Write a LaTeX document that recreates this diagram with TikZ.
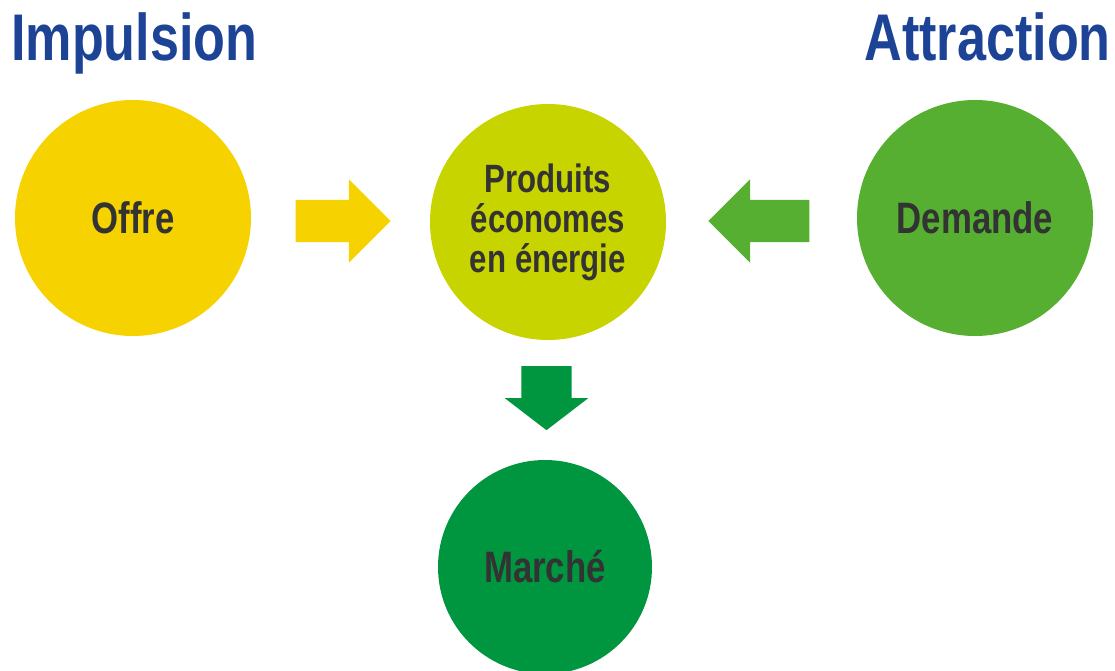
\documentclass[tikz,border=0pt]{standalone}
\usepackage{fontspec}
\setmainfont{Liberation Sans}[FakeStretch=0.79]
\usetikzlibrary{shapes.arrows,calc}

\definecolor{offreyellow}{HTML}{F6D300}
\definecolor{produitsgreen}{HTML}{C8D400}
\definecolor{demandegreen}{HTML}{56AF31}
\definecolor{marchegreen}{HTML}{009640}
\definecolor{titleblue}{HTML}{1C4395}
\definecolor{labelgray}{HTML}{333333}

\begin{document}
\begin{tikzpicture}[x=1pt, y=-1pt,
    bubble/.style={circle, minimum size=236pt, inner sep=0, text=labelgray,
      font=\fontsize{44}{48}\bfseries\selectfont},
    headline/.style={inner sep=0, text=titleblue, font=\fontsize{66}{70}\bfseries\selectfont},
    flowarrow/.style={single arrow, inner xsep=0, inner ysep=21pt, minimum height=95pt,
      single arrow head extend=20.5pt}]
    \useasboundingbox (0,0) rectangle (1115,671);
    \node (impulsion) [headline, anchor=base west] at (11,61) {Impulsion};
    \node (attraction) [headline, anchor=base east] at (1111,61) {Attraction};
    \node (offre) [bubble, fill=offreyellow] at (133,218) {Offre};
    \node (produits) [bubble, fill=produitsgreen, align=center,
      font=\fontsize{39.5}{40}\bfseries\selectfont] at (548,222) {Produits\\économes\\en énergie};
    \node (demande) [bubble, fill=demandegreen] at (975,218) {Demande};
    \node (marche) [bubble, fill=marchegreen, minimum size=214pt] at (545,567) {Marché};
    % block arrows between the circles
    \node (pousse) [flowarrow, fill=offreyellow] at ($(offre)!0.5!(produits)+(-8,1)$) {};
    \node (tire) [flowarrow, fill=demandegreen, minimum height=101pt, rotate=180]
      at ($(produits)!0.5!(demande)+(8,1)$) {};
    \node (vente) [flowarrow, fill=marchegreen, rotate=-90, minimum height=64pt, inner ysep=25pt,
      single arrow head extend=16.5pt, single arrow tip angle=105]
      at ($(produits)!0.5!(marche)+(0,-6)$) {};
  \end{tikzpicture}
\end{document}
